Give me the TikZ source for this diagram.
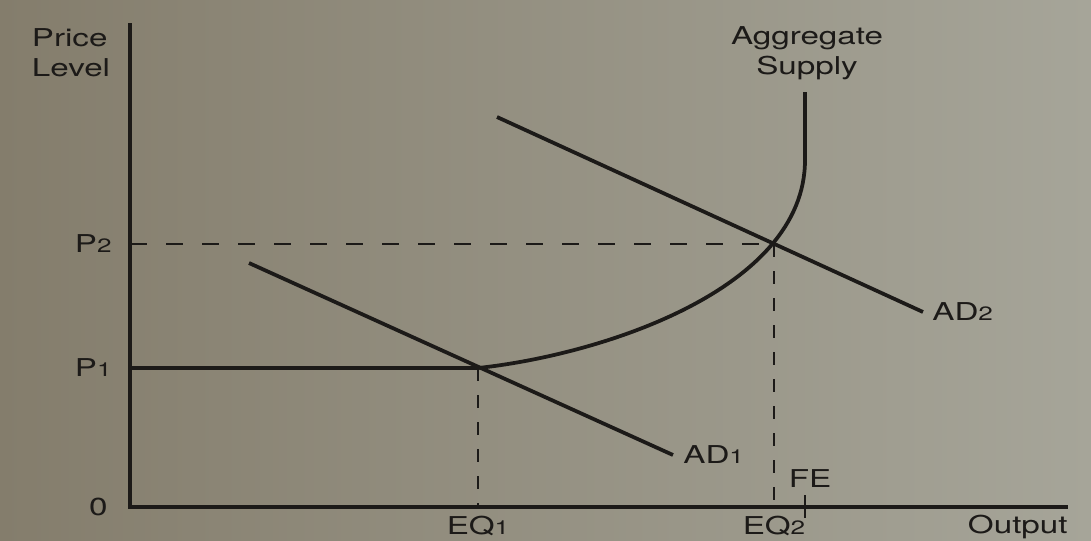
\documentclass[tikz,border=0pt]{standalone}
\usepackage{fontspec}
\setmainfont{TeX Gyre Heros}[FakeStretch=1.35]
\usetikzlibrary{positioning}
\definecolor{ink}{RGB}{28,26,24}
\definecolor{paperl}{RGB}{132,125,108}
\definecolor{paperr}{RGB}{166,165,153}
\newcommand{\idx}[1]{{\fontsize{11}{11}\selectfont #1}}
\tikzset{
    axis/.style={draw=ink, line width=0.8mm},
    curve/.style={draw=ink, line width=0.75mm},
    hguide/.style={draw=ink, line width=0.45mm, dash pattern=on 3.4mm off 3.8mm}, % dashed level line
    vguide/.style={draw=ink, line width=0.45mm, dash pattern=on 2.6mm off 2.8mm}, % dashed drop line
    marker/.style={draw=ink, line width=0.55mm},
    lbl/.style={text=ink, inner sep=0pt, font=\fontsize{14}{17}\selectfont}
}

\begin{document}
\begin{tikzpicture}[x=0.2mm, y=-0.2mm]
    \useasboundingbox (0,0) rectangle (1091,540);
    \shade[left color=paperl, right color=paperr] (0,0) rectangle (1091,540);

    % axes
    \coordinate (origin) at (130,507);
    \coordinate (ytop) at (130,23);
    \coordinate (xend) at (1068,507);
    \draw[axis] (ytop) -- (origin) -- (xend);

    % equilibrium points and their feet
    \coordinate (eq1) at (478,368);
    \coordinate (eq2) at (774,244);
    \coordinate (p1) at (130,368);
    \coordinate (p2) at (130,244);
    \coordinate (q1) at (478,507);
    \coordinate (q2) at (774,507);

    % aggregate supply
    \coordinate (asbend) at (805,160);
    \coordinate (astop) at (805,92);
    \draw[curve] (p1) -- (eq1) .. controls (600,355) and (805,290) .. (asbend) -- (astop);

    % aggregate demand
    \coordinate (ad1start) at (249,263);
    \coordinate (ad1end) at (673,455);
    \coordinate (ad2start) at (497,117);
    \coordinate (ad2end) at (923,312);
    \draw[curve] (ad1start) -- (ad1end);
    \draw[curve] (ad2start) -- (ad2end);

    % guides
    \draw[hguide] (p2) -- (eq2);
    \draw[vguide] (eq1) -- (q1);
    \draw[vguide] (eq2) -- (q2);

    % full employment
    \coordinate (fe) at (805,507);
    \coordinate (fetop) at (805,495);
    \coordinate (febot) at (805,518);
    \draw[marker] (fetop) -- (febot);

    % labels
    \node[lbl, align=left] (ylabel) at (71,53) {Price\\Level};
    \node[lbl, align=center] (aslabel) at (807,53) {Aggregate\\Supply};
    \node[lbl, left=3.6mm of p2] (p2lbl) {P\idx{2}};
    \node[lbl, left=3.6mm of p1] (p1lbl) {P\idx{1}};
    \node[lbl, left=4.4mm of origin] (zero) {0};
    \node[lbl, below=1.8mm of q1] (q1lbl) {EQ\idx{1}};
    \node[lbl, below=1.8mm of q2] (q2lbl) {EQ\idx{2}};
    \node[lbl, anchor=south] (felbl) at (810,488) {FE};
    \node[lbl, below left=1.6mm and 0mm of xend] (xlabel) {Output};
    \node[lbl, right=2mm of ad1end] (ad1lbl) {AD\idx{1}};
    \node[lbl, right=1.8mm of ad2end] (ad2lbl) {AD\idx{2}};
\end{tikzpicture}
\end{document}
